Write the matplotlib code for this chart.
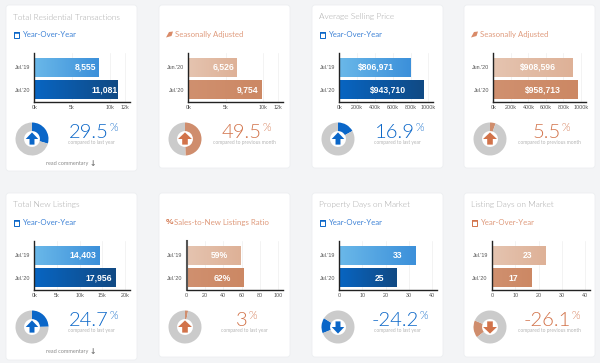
import matplotlib
matplotlib.use('Agg')
import matplotlib.pyplot as plt
from matplotlib.patches import FancyBboxPatch, Rectangle, Polygon
import numpy as np

W, H = 600, 363

BLUE = '#0a66c8'
ORANGE = '#d2734a'
GREY = '#cbcbcb'

# one entry per card, row by row
titles = ['Total Residential Transactions', '', 'Average Selling Price', '',
          'Total New Listings', '', 'Property Days on Market', 'Listing Days on Market']
subtitles = ['Year-Over-Year', 'Seasonally Adjusted', 'Year-Over-Year', 'Seasonally Adjusted',
             'Year-Over-Year', '% Sales-to-New Listings Ratio', 'Year-Over-Year', 'Year-Over-Year']
themes = ['blue', 'orange', 'blue', 'orange', 'blue', 'orange', 'blue', 'orange']
periods = [['Jul.\'19', 'Jul.\'20'], ['Jun.\'20', 'Jul.\'20'], ['Jul.\'19', 'Jul.\'20'], ['Jun.\'20', 'Jul.\'20'],
           ['Jul.\'19', 'Jul.\'20'], ['Jul.\'19', 'Jul.\'20'], ['Jul.\'19', 'Jul.\'20'], ['Jul.\'19', 'Jul.\'20']]
values = [[8555, 11081], [6526, 9754], [806971, 943710], [908596, 958713],
          [14403, 17956], [59, 62], [33, 25], [23, 17]]
value_labels = [['8,555', '11,081'], ['6,526', '9,754'], ['$806,971', '$943,710'], ['$908,596', '$958,713'],
                ['14,403', '17,956'], ['59%', '62%'], ['33', '25'], ['23', '17']]
ticks = [[0, 5000, 10000, 12000], [0, 5000, 10000, 12000],
         [0, 200000, 400000, 600000, 800000, 1000000], [0, 200000, 400000, 600000, 800000, 1000000],
         [0, 5000, 10000, 15000, 20000], [0, 20, 40, 60, 80, 100],
         [0, 10, 20, 30, 40], [0, 10, 20, 30, 40]]
tick_labels = [['0k', '5k', '10k', '12k'], ['0k', '5k', '10k', '12k'],
               ['0k', '200k', '400k', '600k', '800k', '1000k'], ['0k', '200k', '400k', '600k', '800k', '1000k'],
               ['0k', '5k', '10k', '15k', '20k'], ['0', '20', '40', '60', '80', '100'],
               ['0', '10', '20', '30', '40'], ['0', '10', '20', '30', '40']]
change_labels = ['29.5', '49.5', '16.9', '5.5', '24.7', '3', '-24.2', '-26.1']
arrow_up = [True, True, True, True, True, True, False, False]
# coloured share of each donut and where it starts, clockwise from the top
donut_share = [29.5, 49.5, 16.9, 5.5, 24.7, 3, 15, 17]
donut_start = [0, 0, 0, 0, 0, 0, 248, 232]
notes = ['compared to last year', 'compared to previous month', 'compared to last year',
         'compared to previous month', 'compared to last year', 'compared to last year',
         'compared to last year', 'compared to previous month']
has_commentary = [True, False, False, False, True, False, False, False]

# pixel layout
card_left = [6, 159, 312, 464]
card_width = 131
row_top = [5, 193]
card_height = [[166, 163, 163, 163], [167, 164, 164, 164]]
axis_zero = [34.3, 188.3, 339.3, 493.3, 34.3, 186.8, 339.3, 492]
axis_max = [125, 278.3, 428.5, 581, 125, 278, 432, 585]
label_shift = [-13, -14, -35, -35, -17, -21, -18, -18]

text_font = ['Lato', 'DejaVu Sans']
plt.rcParams['font.family'] = ['Liberation Sans', 'DejaVu Sans']

fig = plt.figure(figsize=(W / 100, H / 100), dpi=100, facecolor='#f3f4f6')
bg = fig.add_axes([0, 0, 1, 1])
bg.set_xlim(0, W)
bg.set_ylim(H, 0)
bg.axis('off')


def px_axes(x0, y0, x1, y1):
    return fig.add_axes([x0 / W, 1 - y1 / H, (x1 - x0) / W, (y1 - y0) / H])


def gradient_bar(ax, bar, c0, c1):
    x, y = bar.get_x(), bar.get_y()
    w, h = bar.get_width(), bar.get_height()
    cols = np.array([matplotlib.colors.to_rgb(c0), matplotlib.colors.to_rgb(c1)])
    img = np.linspace(cols[0], cols[1], 64).reshape(1, 64, 3)
    xl, yl = ax.get_xlim(), ax.get_ylim()
    ax.imshow(img, extent=[x, x + w, y + h, y], aspect='auto', zorder=2)
    ax.set_xlim(xl)
    ax.set_ylim(yl)


for i in range(8):
    row = i // 4
    col = i % 4
    left = card_left[col]
    top = row_top[row]
    theme = themes[i]
    main = BLUE if theme == 'blue' else ORANGE

    bg.add_patch(FancyBboxPatch((left + 2, top + 2), card_width - 4, card_height[row][col] - 4,
                                boxstyle='round,pad=2,rounding_size=3', fc='white', ec='#eceef1', lw=0.6))
    if titles[i]:
        bg.text(left + 7, top + 12, titles[i], fontsize=6, color='#a9a9a9', family=text_font, weight=300,
                va='center')
    sub = subtitles[i]
    sub_color = '#3f83d6' if theme == 'blue' else '#df9a7c'
    sub_y = top + 29.5
    if sub.startswith('%'):
        bg.text(left + 7, sub_y, '%', fontsize=6, color=ORANGE, weight='bold', va='center')
        bg.text(left + 14.7, sub_y, sub[2:], fontsize=5.7, color=sub_color, family=text_font, va='center')
    else:
        # small calendar / leaf glyph
        if sub.startswith('Year'):
            bg.add_patch(Rectangle((left + 7.5, sub_y - 3), 5.5, 6, fc='none', ec=main, lw=0.7))
            bg.add_patch(Rectangle((left + 7.5, sub_y - 3), 5.5, 1.5, fc=main, ec=main, lw=0.4))
        else:
            bg.add_patch(Polygon([[left + 7, sub_y + 3], [left + 10, sub_y - 2.5], [left + 14, sub_y - 3],
                                  [left + 12.5, sub_y + 1.5]], fc='#d98a68', ec='none'))
        bg.text(left + 16, sub_y, sub, fontsize=5.6, color=sub_color, family=text_font, va='center')

    # bar chart
    ax0 = axis_zero[i]
    ax1 = axis_max[i]
    ax_end = ax1 + 5
    ax = px_axes(ax0, top + 48, ax_end, top + 97)
    ax.set_facecolor('none')
    xmax = ticks[i][-1] * (ax_end - ax0) / (ax1 - ax0)
    ax.set_xlim(0, xmax)
    ax.set_ylim(1.533, -0.644)
    bars = ax.barh([0, 1], values[i], height=0.84, color='none', zorder=2)
    if theme == 'blue':
        gradient_bar(ax, bars[0], '#6ab8e9', '#3c90da')
        gradient_bar(ax, bars[1], '#0865c2', '#114a84')
    else:
        gradient_bar(ax, bars[0], '#e5c4b0', '#deb197')
        gradient_bar(ax, bars[1], '#d0906f', '#cc8864')
    px_per_unit = (ax_end - ax0) / xmax
    for j in range(2):
        ax.text(values[i][j] + label_shift[i] / px_per_unit, j, value_labels[i][j],
                color='white', fontsize=6.2, weight='bold', ha='center', va='center', zorder=3)
    ax.set_xticks(ticks[i])
    ax.set_xticklabels(tick_labels[i])
    ax.set_yticks([0, 1])
    ax.set_yticklabels(periods[i])
    ax.tick_params(axis='x', labelsize=3.9, labelcolor='#555555', length=0, pad=2)
    ax.tick_params(axis='y', labelsize=3.9, labelcolor='#555555', length=0, pad=3)
    ax.grid(axis='x', color='#efefef', lw=0.5, zorder=0)
    ax.set_axisbelow(True)
    for s in ['top', 'right']:
        ax.spines[s].set_visible(False)
    ax.spines['bottom'].set_linewidth(1.0)
    ax.spines['bottom'].set_color('#222222')
    ax.spines['left'].set_linewidth(1.5 if i == 5 else 1.0)
    ax.spines['left'].set_color('#555555' if i == 5 else '#222222')

    # donut
    cx = left + 26
    cy = top + 134
    r = 16.5
    dn = px_axes(cx - r, cy - r, cx + r, cy + r)
    wedge_col = BLUE if theme == 'blue' else '#cf8d6d'
    dn.pie([donut_share[i], 100 - donut_share[i]], colors=[wedge_col, GREY], startangle=90 - donut_start[i],
           counterclock=False, radius=1, wedgeprops=dict(width=0.52, linewidth=0))
    dn.set_xlim(-1, 1)
    dn.set_ylim(-1, 1)
    sign = 1 if arrow_up[i] else -1
    hw = 0.38 if theme == 'blue' else 0.42
    sw = 0.15 if theme == 'blue' else 0.17
    dn.add_patch(Polygon([[0, 0.4 * sign], [-hw, 0.0], [-sw, 0.0], [-sw, -0.34 * sign],
                          [sw, -0.34 * sign], [sw, 0.0], [hw, 0.0]], fc=main, ec='none', zorder=5))

    # change text
    num = bg.text(left + 83, top + 127, change_labels[i], fontsize=14.5, color=main,
                  family=text_font, weight=300, ha='center', va='center')
    fig.canvas.draw()
    ext = num.get_window_extent()
    bg.text(ext.x1 + 0.5, top + 122.5, '%', fontsize=8, color=main, family=text_font, weight=300,
            ha='left', va='center')
    bg.text(left + 85, top + 137.7, notes[i], fontsize=3.5, color='#b5b5b5', family=text_font,
            ha='center', va='center')
    if has_commentary[i]:
        bg.text(left + 61.5, top + 158.5, 'read commentary', fontsize=4, color='#8a8a8a', family=text_font,
                ha='center', va='center')
        bg.text(left + 87, top + 158.5, '\u2193', fontsize=5.5, color='#777777', family='DejaVu Sans',
                ha='center', va='center', weight='bold')

fig.savefig('out.png', dpi=100, facecolor=fig.get_facecolor())
